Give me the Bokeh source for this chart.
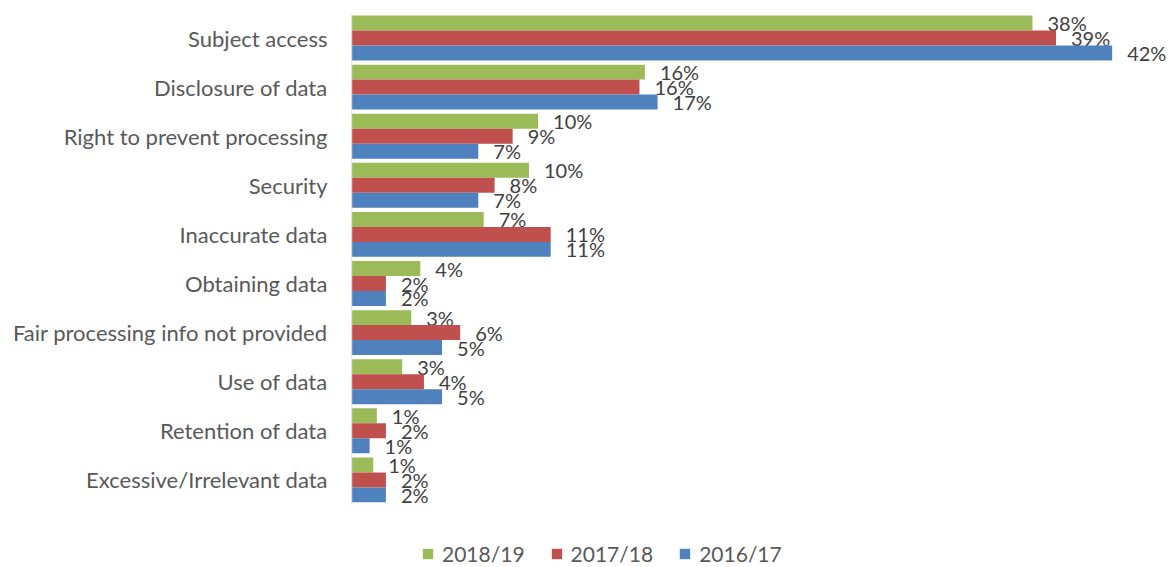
from bokeh.plotting import figure
from bokeh.models import ColumnDataSource, Range1d, FixedTicker, Legend, LegendItem
from bokeh.core.properties import value
from bokeh.embed import file_html
from bokeh.resources import INLINE

categories = ["Subject access", "Disclosure of data", "Right to prevent processing", "Security",
              "Inaccurate data", "Obtaining data", "Fair processing info not provided",
              "Use of data", "Retention of data", "Excessive/Irrelevant data"]
series_names = ["2018/19", "2017/18", "2016/17"]
v_2018_19 = [37.6, 16.2, 10.3, 9.8, 7.3, 3.8, 3.3, 2.8, 1.4, 1.2]
v_2017_18 = [38.9, 15.9, 8.9, 7.9, 11.0, 1.9, 6.0, 4.0, 1.9, 1.9]
v_2016_17 = [42.0, 16.9, 7.0, 7.0, 11.0, 1.9, 5.0, 5.0, 1.0, 1.9]
colors = ["#9BBB59", "#C0504D", "#4F81BD"]

FONT = "Lato"
W, H = 1170, 567
LEFT = 351
px_per_cat = 49.1
top_units = 37.5 / px_per_cat
span_units = H / px_per_cat

p = figure(width=W, height=H, output_backend="svg", toolbar_location=None,
           x_range=Range1d(0, 45), y_range=Range1d(span_units - top_units, -top_units),
           min_border_left=LEFT, min_border_right=4, min_border_top=0, min_border_bottom=0)
p.xaxis.visible = False
p.xgrid.visible = False
p.ygrid.visible = False
p.outline_line_color = None

idx = list(range(len(categories)))
bar_h = 0.305
offsets = [-bar_h, 0.0, bar_h]
renderers = []
for name, vals, col, off in zip(series_names, [v_2018_19, v_2017_18, v_2016_17], colors, offsets):
    src = ColumnDataSource(dict(y=[i + off for i in idx], v=vals,
                                lab=[f"{round(v)}%" for v in vals]))
    r = p.hbar(y="y", right="v", left=0, height=bar_h, source=src, fill_color=col, line_color=None)
    renderers.append((name, r))
    p.text(x="v", y="y", text="lab", source=src, x_offset=15, y_offset=0,
           text_baseline="middle", text_align="left", text_font=value(FONT),
           text_font_size="20px", text_color="#404040")

# axis line
p.segment(x0=[0], y0=[-0.5], x1=[0], y1=[len(categories) - 0.5], line_color="#D9D9D9", line_width=1.5)

ax = p.yaxis[0]
ax.ticker = FixedTicker(ticks=idx)
ax.major_label_overrides = {i: c for i, c in enumerate(categories)}
ax.axis_line_color = None
ax.major_tick_line_color = None
ax.minor_tick_line_color = None
ax.major_label_standoff = 18
ax.major_label_text_font = FONT
ax.major_label_text_font_size = "22px"
ax.major_label_text_color = "#595959"

legend = Legend(items=[LegendItem(label=n, renderers=[r]) for n, r in renderers],
                orientation="horizontal", location=(70, 1), padding=0, margin=0,
                border_line_color=None, background_fill_alpha=0,
                glyph_width=13, glyph_height=13, label_standoff=8, spacing=25,
                label_text_font=FONT, label_text_font_size="21px", label_text_color="#595959")
p.add_layout(legend, "center")

open("out.html", "w").write(file_html(p, INLINE))
